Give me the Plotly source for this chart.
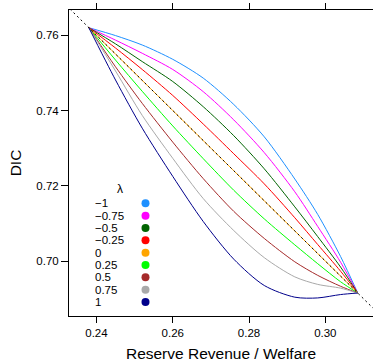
import plotly.graph_objects as go

# ---- data ----
x_vals = [0.238, 0.245, 0.252, 0.260, 0.268, 0.276, 0.284, 0.292, 0.298, 0.304, 0.3085]

lam_labels = ["\u22121", "\u22120.75", "\u22120.5", "\u22120.25", "0", "0.25", "0.5", "0.75", "1"]
lam_colors = ["#1E90FF", "#FF00FF", "#006400", "#FF0000", "#FFA500",
              "#00FF00", "#A52A2A", "#A9A9A9", "#00008B"]

y_m100 = [0.762, 0.7599, 0.7574, 0.7536, 0.7486, 0.7416, 0.7330, 0.7218, 0.7124, 0.7012, 0.6915]
y_m075 = [0.762, 0.7587, 0.7552, 0.7509, 0.7450, 0.7375, 0.7288, 0.7184, 0.7092, 0.6997, 0.6915]
y_m050 = [0.762, 0.7577, 0.7530, 0.7477, 0.7410, 0.7333, 0.7245, 0.7144, 0.7065, 0.6984, 0.6915]
y_m025 = [0.762, 0.7566, 0.7509, 0.7440, 0.7364, 0.7285, 0.7205, 0.7115, 0.7044, 0.6973, 0.6915]
y_p000 = [0.762, 0.7550, 0.7480, 0.7400, 0.7320, 0.7240, 0.7160, 0.7080, 0.7020, 0.6960, 0.6915]
y_p025 = [0.762, 0.7534, 0.7451, 0.7359, 0.7272, 0.7188, 0.7112, 0.7043, 0.6993, 0.6945, 0.6915]
y_p050 = [0.762, 0.7516, 0.7419, 0.7316, 0.7219, 0.7132, 0.7060, 0.6998, 0.6962, 0.6933, 0.6915]
y_p075 = [0.762, 0.7505, 0.7387, 0.7273, 0.7166, 0.7081, 0.7009, 0.6958, 0.6938, 0.6928, 0.6915]
y_p100 = [0.762, 0.7481, 0.7353, 0.7225, 0.7105, 0.7005, 0.6935, 0.6904, 0.6902, 0.6911, 0.6915]

series = [y_m100, y_m075, y_m050, y_m025, y_p000, y_p025, y_p050, y_p075, y_p100]

# reference line DIC = 1 - RR/W
diag_x = [0.22, 0.33]
diag_y = [0.78, 0.67]

x_ticks = [0.24, 0.26, 0.28, 0.30]
x_ticktext = ["0.24", "0.26", "0.28", "0.30"]
y_ticks = [0.70, 0.72, 0.74, 0.76]
y_ticktext = ["0.70", "0.72", "0.74", "0.76"]

# ---- figure ----
W, H = 373, 362
ML, MR, MT, MB = 69, 0, 10, 46
PW, PH = W - ML - MR, H - MT - MB
FONT = "Liberation Sans, Arial, Helvetica, sans-serif"

fig = go.Figure()
for ys, col in zip(series, lam_colors):
    fig.add_trace(go.Scatter(x=x_vals, y=ys, mode="lines",
                             line=dict(color=col, width=1, shape="spline", smoothing=0.8),
                             showlegend=False, hoverinfo="skip"))
fig.add_trace(go.Scatter(x=diag_x, y=diag_y, mode="lines",
                         line=dict(color="black", width=1, dash="2px,3px"),
                         showlegend=False, hoverinfo="skip"))

# custom legend (text left, dot right)
annotations = []
shapes = []
def px2paper(px, py):
    return (px - ML) / PW, (MT + PH - py) / PH

lx, ly = px2paper(120, 189)
annotations.append(dict(x=lx, y=ly, xref="paper", yref="paper", text="\u03bb",
                        showarrow=False, font=dict(size=12, family=FONT, color="black"),
                        xanchor="center", yanchor="middle"))
row0, dy = 203.3, 12.34
for i, (lab, col) in enumerate(zip(lam_labels, lam_colors)):
    py = row0 + i * dy
    tx, ty = px2paper(92.5, py)
    annotations.append(dict(x=tx, y=ty, xref="paper", yref="paper", text=lab,
                            showarrow=False, font=dict(size=11.5, family=FONT, color="black"),
                            xanchor="left", yanchor="middle"))
    x0, y0 = px2paper(145.5 - 4, py + 4)
    x1, y1 = px2paper(145.5 + 4, py - 4)
    shapes.append(dict(type="circle", xref="paper", yref="paper",
                       x0=x0, y0=y0, x1=x1, y1=y1,
                       fillcolor=col, line=dict(width=0)))

fig.update_layout(
    width=W, height=H,
    margin=dict(l=ML, r=MR, t=MT, b=MB, autoexpand=False),
    paper_bgcolor="white", plot_bgcolor="white",
    font=dict(family=FONT, color="black", size=11.5),
    annotations=annotations, shapes=shapes,
    hovermode=False,
)
fig.update_xaxes(range=[0.2328, 0.3125], tickvals=x_ticks, ticktext=x_ticktext,
                 ticks="outside", ticklen=6, tickcolor="black", tickwidth=1,
                 showline=True, linecolor="black", linewidth=1, mirror="ticks",
                 showgrid=False, zeroline=False, automargin=False,
                 tickfont=dict(size=11.5),
                 title=dict(text="Reserve Revenue / Welfare", font=dict(size=15.5), standoff=10))
fig.update_yaxes(range=[0.6854, 0.7667], tickvals=y_ticks, ticktext=y_ticktext,
                 ticks="outside", ticklen=7, tickcolor="black", tickwidth=1,
                 showline=True, linecolor="black", linewidth=1, mirror=False,
                 showgrid=False, zeroline=False, automargin=False,
                 tickfont=dict(size=11.5),
                 title=dict(text="DIC", font=dict(size=15.5), standoff=10))

fig.write_html("out.html", config={"displayModeBar": False},
               post_script="document.body.style.margin='0';document.body.style.overflow='hidden';")
